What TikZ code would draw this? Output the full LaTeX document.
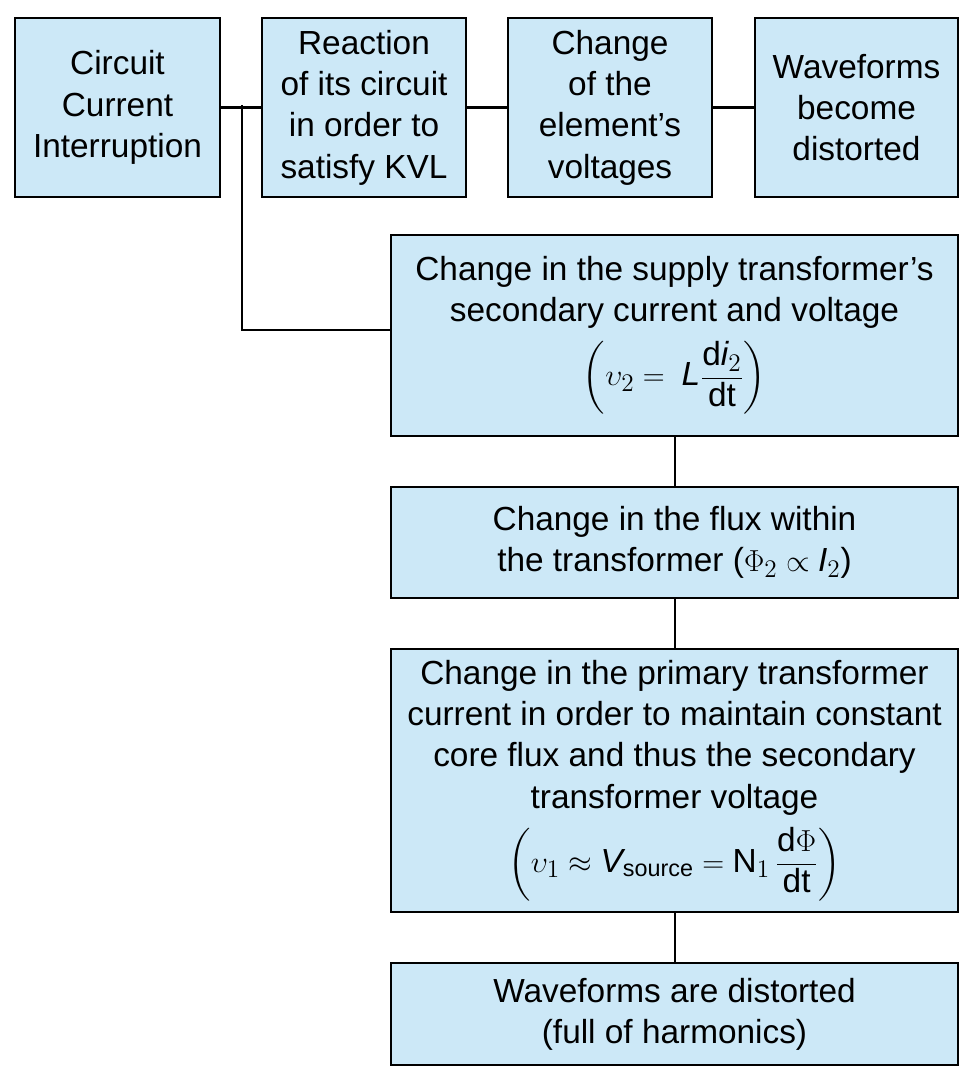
\documentclass[tikz,border=0pt]{standalone}
\usepackage{amsmath}
\usepackage{fontspec}
\setmainfont{Liberation Sans}
\begin{document}
\begin{tikzpicture}[x=0.02cm,y=-0.02cm,
  box/.style={draw=black,line width=1.2pt,fill={rgb,255:red,204;green,232;blue,247},align=center,inner sep=0pt,
    font=\fontsize{19}{23.5}\selectfont},
  ln/.style={line width=1.2pt}]
\useasboundingbox (0,0) rectangle (965,1074);
\newcommand{\bx}[6]{\node[box,minimum width={(#4-#2)*0.02cm},minimum height={(#5-#3)*0.02cm}] (#1) at ({(#2+#4)/2},{(#3+#5)/2}) {#6};}
\bx{b1}{15}{18}{220}{197}{Circuit\\Current\\Interruption}
\bx{b2}{262}{18}{466}{197}{Reaction\\of its circuit\\in order to\\satisfy KVL}
\bx{b3}{508}{18}{712}{197}{Change\\of the\\element's\\voltages}
\bx{b4}{755}{18}{958}{197}{Waveforms\\become\\distorted}
\bx{b5}{391}{235}{958}{436}{Change in the supply transformer's\\secondary current and voltage\\[6pt]
 $\left(\upsilon_2 =\; \mathit{L}\dfrac{\mathrm{d}\mathit{i}_2}{\mathrm{dt}}\right)$}
\bx{b6}{391}{487}{958}{598}{Change in the flux within\\the transformer ($\Phi_2 \propto \mathit{I}_2$)}
\bx{b7}{391}{649}{958}{912}{Change in the primary transformer\\current in order to maintain constant\\core flux and thus the secondary\\transformer voltage\\[6pt]
 $\left(\upsilon_1 \approx \mathit{V}_{\text{source}} = \mathrm{N}_1\,\dfrac{\mathrm{d}\Phi}{\mathrm{dt}}\right)$}
\bx{b8}{391}{963}{958}{1065}{Waveforms are distorted\\(full of harmonics)}
\coordinate (j) at (242,105);
\coordinate (k) at (242,330);
\draw[ln] (b1.east) -- (b2.west);
\draw[ln] (b2.east) -- (b3.west);
\draw[ln] (b3.east) -- (b4.west);
\draw[ln] (j) -- (k) -- (k-|b5.west);
\draw[ln] (b5.south-|675,0) -- (b6.north-|675,0);
\draw[ln] (b6.south-|675,0) -- (b7.north-|675,0);
\draw[ln] (b7.south-|675,0) -- (b8.north-|675,0);
\end{tikzpicture}
\end{document}
